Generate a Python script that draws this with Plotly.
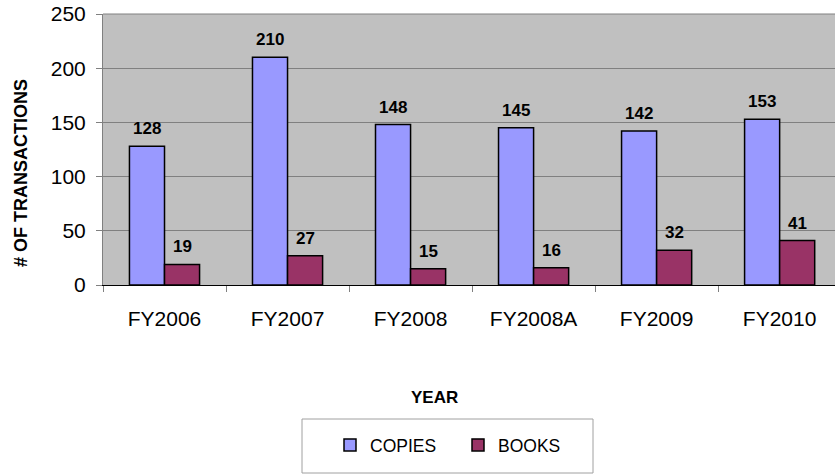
import plotly.graph_objects as go

years = ["FY2006", "FY2007", "FY2008", "FY2008A", "FY2009", "FY2010"]
copies = [128, 210, 148, 145, 142, 153]
books = [19, 27, 15, 16, 32, 41]
y_ticks = [0, 50, 100, 150, 200, 250]

FONT = "Liberation Sans, Arial, sans-serif"
BAR_GAP = 0.43
HALF = (1 - BAR_GAP) / 4  # offset of each bar centre from category centre

W, H = 835, 474
L, T, B = 103, 14, 189
PW, PH = W - L, H - T - B


def px(x):  # pixel -> paper
    return (x - L) / PW


def py(y):  # pixel -> paper
    return (H - B - y) / PH


fig = go.Figure()
fig.add_trace(go.Bar(
    x=years, y=copies, name="COPIES",
    marker=dict(color="#9999FF", line=dict(color="black", width=1.5)),
))
fig.add_trace(go.Bar(
    x=years, y=books, name="BOOKS",
    marker=dict(color="#993366", line=dict(color="black", width=1.5)),
))

annotations = []
for series, sign in ((copies, -1), (books, 1)):
    for i, v in enumerate(series):
        annotations.append(dict(
            x=i + sign * HALF, y=v, xref="x", yref="y", text=f"<b>{v}</b>",
            showarrow=False, yanchor="bottom", xanchor="center", yshift=6,
            font=dict(family=FONT, size=17, color="black"),
        ))

annotations.append(dict(
    x=px(21), y=py(173), xref="paper", yref="paper", text="<b># OF TRANSACTIONS</b>",
    textangle=-90, showarrow=False, xanchor="center", yanchor="middle",
    font=dict(family=FONT, size=18, color="black"),
))
annotations.append(dict(
    x=px(434), y=py(397), xref="paper", yref="paper", text="<b>YEAR</b>",
    showarrow=False, xanchor="center", yanchor="middle",
    font=dict(family=FONT, size=17, color="black"),
))

fig.update_layout(
    width=W, height=H,
    margin=dict(l=L, r=0, t=T, b=B, autoexpand=False),
    paper_bgcolor="white", plot_bgcolor="#C0C0C0",
    barmode="group", bargap=BAR_GAP, bargroupgap=0,
    font=dict(family=FONT, color="black"),
    showlegend=True,
    legend=dict(
        orientation="h", x=px(330), xanchor="left",
        y=py(445), yanchor="middle",
        font=dict(family=FONT, size=17.5, color="black"),
        bgcolor="rgba(0,0,0,0)", borderwidth=0,
        entrywidth=83, entrywidthmode="pixels",
        itemclick=False, itemdoubleclick=False,
    ),
    xaxis=dict(
        range=[-0.5, 5.45], showgrid=False, automargin=False,
        showline=True, linecolor="black", linewidth=1,
        ticks="outside", tickson="boundaries", ticklen=6, tickcolor="#808080",
        tickfont=dict(family=FONT, size=21, color="black"),
        ticklabelstandoff=15,
    ),
    yaxis=dict(
        range=[0, 250], tickvals=y_ticks, showgrid=True, gridcolor="#808080", gridwidth=1,
        showline=True, linecolor="#808080", linewidth=1, automargin=False,
        ticks="outside", ticklen=6, tickcolor="#808080",
        tickfont=dict(family=FONT, size=21, color="black"),
        ticklabelstandoff=6, ticklabeloverflow="allow",
        zeroline=False,
    ),
    annotations=annotations,
    shapes=[
        dict(type="rect", xref="paper", yref="paper",
             x0=px(302), x1=px(593), y0=py(473), y1=py(419),
             line=dict(color="#A0A0A0", width=1), fillcolor="rgba(0,0,0,0)", layer="below"),
        dict(type="line", xref="paper", yref="paper", x0=0, x1=1, y0=1, y1=1,
             line=dict(color="#808080", width=1)),
    ],
)

fig.write_html("out.html", config={"displayModeBar": False},
               post_script="document.body.style.margin='0';")
